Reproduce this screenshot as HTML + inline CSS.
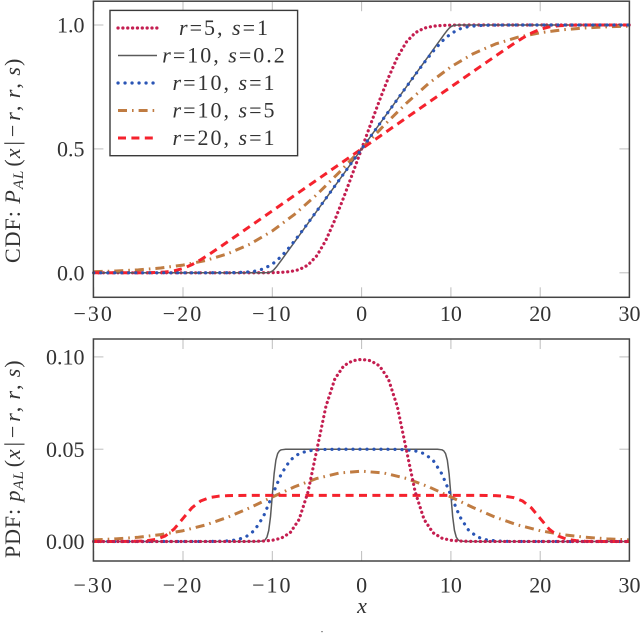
<!DOCTYPE html>
<html lang="en">
<head>
<meta charset="utf-8">
<title>CDF and PDF of the AL distribution</title>
<style>
html,body{margin:0;padding:0;background:#fff;width:640px;height:634px;overflow:hidden}
svg{display:block;font-family:"Liberation Serif",serif;fill:#333}
text{fill:#333}
.it{font-style:italic}
</style>
</head>
<body>
<svg id="chart" width="640" height="634" viewBox="0 0 640 634" xmlns="http://www.w3.org/2000/svg">
  <rect x="0" y="0" width="640" height="634" fill="#fff"></rect>
  <g id="cdf-layer"></g>
  <g id="pdf-layer"></g>
  <text transform="translate(20,263) rotate(-90)" font-size="22" letter-spacing="1">CDF: <tspan class="it">P</tspan><tspan class="it" font-size="15" dy="3">AL</tspan><tspan dy="-3" dx="3">(</tspan><tspan class="it">x</tspan><tspan dx="2">|</tspan><tspan dx="3">−</tspan><tspan class="it" dx="3">r</tspan>, <tspan class="it">r</tspan>, <tspan class="it">s</tspan>)</text>
  <text transform="translate(20,558) rotate(-90)" font-size="22" letter-spacing="0.9">PDF: <tspan class="it">p</tspan><tspan class="it" font-size="15" dy="3">AL</tspan><tspan dy="-3" dx="3">(</tspan><tspan class="it">x</tspan><tspan dx="2">|</tspan><tspan dx="3">−</tspan><tspan class="it" dx="3">r</tspan>, <tspan class="it">r</tspan>, <tspan class="it">s</tspan>)</text>
  <text class="it" x="362" y="613" font-size="22" text-anchor="middle">x</text>
  <rect x="321" y="631" width="2" height="1.2" fill="#999"></rect>
</svg>
<script>
var xTicks = [-30, -20, -10, 0, 10, 20, 30];
var cdfYTicks = [0, 0.5, 1];
var cdfYTickLabels = ['0.0', '0.5', '1.0'];
var pdfYTicks = [0, 0.05, 0.1];
var pdfYTickLabels = ['0.00', '0.05', '0.10'];
var seriesLabelsR = ['5', '10', '10', '10', '20'];
var seriesLabelsS = ['1', '0.2', '1', '5', '1'];

var xR5 = [-30,-13,-12,-11,-10,-9,-8,-7,-6,-5,-4,-3,-2,-1,0,1,2,3,4,5,6,7,8,9,10,11,12,13,30];
var cdfR5 = [0,0.00003,0.00009,0.00025,0.00067,0.00181,0.00486,0.01269,0.03133,0.06931,0.13131,0.21266,0.30477,0.40157,0.5,0.59843,0.69523,0.78734,0.86869,0.93069,0.96867,0.98731,0.99514,0.99819,0.99933,0.99975,0.99991,0.99997,1];
var pdfR5 = [0,0.00003,0.00009,0.00025,0.00067,0.0018,0.00474,0.01192,0.02689,0.05,0.0731,0.08805,0.09517,0.09795,0.09866,0.09795,0.09517,0.08805,0.0731,0.05,0.02689,0.01192,0.00474,0.0018,0.00067,0.00025,0.00009,0.00003,0];

var xR10S02Cdf = [-30,-12,-11,-10.6,-10.4,-10.2,-10,-9.8,-9.6,-9.4,-9.2,-9,-8,0,8,9,9.2,9.4,9.6,9.8,10,10.2,10.4,10.6,11,12,30];
var cdfR10S02 = [0,0,0.00007,0.00049,0.00127,0.00313,0.00693,0.01313,0.02127,0.03049,0.04018,0.05007,0.1,0.5,0.9,0.94993,0.95982,0.96951,0.97873,0.98687,0.99307,0.99687,0.99873,0.99951,0.99993,1,1];
var xR10S02Pdf = [-30,-12,-11.5,-11,-10.8,-10.6,-10.4,-10.2,-10,-9.8,-9.6,-9.4,-9.2,-9,-8.5,-8,8,8.5,9,9.2,9.4,9.6,9.8,10,10.2,10.4,10.6,10.8,11,11.5,12,30];
var pdfR10S02 = [0,0,0.00003,0.00033,0.0009,0.00237,0.00596,0.01345,0.025,0.03655,0.04404,0.04763,0.0491,0.04967,0.04997,0.05,0.05,0.04997,0.04967,0.0491,0.04763,0.04404,0.03655,0.025,0.01345,0.00596,0.00237,0.0009,0.00033,0.00003,0,0];

var xR10S1 = [-30,-17,-16,-15,-14,-13,-12,-11,-10,-9,-8,-7,-6,-5,-4,-3,-2,-1,0,1,2,3,4,5,6,7,8,9,10,11,12,13,14,15,16,17,30];
var cdfR10S1 = [0,0.00004,0.00012,0.00034,0.00091,0.00243,0.00635,0.01566,0.03466,0.06566,0.10635,0.15243,0.20091,0.25034,0.30012,0.35,0.4,0.45,0.5,0.55,0.6,0.65,0.69988,0.74966,0.79909,0.84757,0.89365,0.93434,0.96534,0.98434,0.99365,0.99757,0.99909,0.99966,0.99988,0.99996,1];
var pdfR10S1 = [0,0.00004,0.00012,0.00033,0.0009,0.00237,0.00596,0.01345,0.025,0.03655,0.04404,0.04763,0.0491,0.04967,0.04988,0.04995,0.04998,0.05,0.05,0.05,0.04998,0.04995,0.04988,0.04967,0.0491,0.04763,0.04404,0.03655,0.025,0.01345,0.00596,0.00237,0.0009,0.00033,0.00012,0.00004,0];

var xR10S5 = [-30,-27.5,-25,-22.5,-20,-17.5,-15,-12.5,-10,-7.5,-5,-2.5,0,2.5,5,7.5,10,12.5,15,17.5,20,22.5,25,27.5,30];
var cdfR10S5 = [0.00445,0.0073,0.01192,0.01935,0.03111,0.04933,0.07664,0.11576,0.16875,0.23608,0.31617,0.40563,0.5,0.59437,0.68383,0.76392,0.83125,0.88424,0.92336,0.95067,0.96889,0.98065,0.98808,0.9927,0.99555];
var pdfR10S5 = [0.00088,0.00144,0.00233,0.00372,0.00584,0.00892,0.01311,0.01833,0.0241,0.02966,0.03418,0.03709,0.03808,0.03709,0.03418,0.02966,0.0241,0.01833,0.01311,0.00892,0.00584,0.00372,0.00233,0.00144,0.00088];

var xR20 = [-30,-28,-27,-26,-25,-24,-23,-22,-21,-20,-19,-18,-17,-16,-15,-14,-12,0,12,14,15,16,17,18,19,20,21,22,23,24,25,26,27,28,30];
var cdfR20 = [0,0.00001,0.00002,0.00006,0.00017,0.00045,0.00121,0.00317,0.00783,0.01733,0.03283,0.05317,0.07621,0.10045,0.12517,0.15006,0.2,0.5,0.8,0.84994,0.87483,0.89955,0.92379,0.94683,0.96717,0.98267,0.99217,0.99683,0.99879,0.99955,0.99983,0.99994,0.99998,0.99999,1];
var pdfR20 = [0,0.00001,0.00002,0.00006,0.00017,0.00045,0.00119,0.00298,0.00672,0.0125,0.01828,0.02202,0.02381,0.02455,0.02483,0.02494,0.02499,0.025,0.02499,0.02494,0.02483,0.02455,0.02381,0.02202,0.01828,0.0125,0.00672,0.00298,0.00119,0.00045,0.00017,0.00006,0.00002,0.00001,0];

var NS = 'http://www.w3.org/2000/svg';
var styleR5 = { stroke: '#c41e50', width: 3.2, dash: '0.1 4.75', cap: 'round' };
var styleR10S02 = { stroke: '#5a5a5a', width: 1.5, dash: '', cap: 'butt' };
var styleR10S1 = { stroke: '#2a55b5', width: 3.2, dash: '0.1 6.9', cap: 'round' };
var styleR10S5 = { stroke: '#c07c42', width: 3, dash: '9 5 1.6 5', cap: 'butt' };
var styleR20 = { stroke: '#f5222d', width: 3, dash: '8 5.4', cap: 'butt' };

function make(tag, attrs, parent) {
  var n = document.createElementNS(NS, tag);
  for (var k in attrs) n.setAttribute(k, attrs[k]);
  parent.appendChild(n);
  return n;
}

function drawLine(parent, xs, ys, style, sx, sy, name) {
  var d = '';
  for (var i = 0; i < xs.length; i++) {
    d += (i ? 'L' : 'M') + sx(xs[i]).toFixed(2) + ' ' + sy(ys[i]).toFixed(2);
  }
  var p = make('path', { d: d, fill: 'none', stroke: style.stroke, 'stroke-width': style.width, 'stroke-dasharray': style.dash, 'stroke-linecap': style.cap, 'stroke-linejoin': 'round' }, parent);
  
  
  return p;
}

function drawPanel(parent, prefix, box, yVal0, yPx0, yVal1, yPx1, yTicks, yLabels, labelBaseline, series) {
  var sx = function (v) { return 361.6 + v * 8.93; };
  var sy = function (v) { return yPx0 + (v - yVal0) * (yPx1 - yPx0) / (yVal1 - yVal0); };
  xTicks.forEach(function (t) {
    var top = make('line', { x1: sx(t), x2: sx(t), y1: box.top, y2: box.top + 10, stroke: '#bdbdbd', 'stroke-width': 1 }, parent);
    
    
    var bottom = make('line', { x1: sx(t), x2: sx(t), y1: box.bottom - 10, y2: box.bottom, stroke: '#bdbdbd', 'stroke-width': 1 }, parent);
    
    
    var neg = t < 0;
    var lab = make('text', { x: sx(t), y: labelBaseline, 'font-size': 22, 'text-anchor': 'middle', 'letter-spacing': neg ? 2 : 0 }, parent);
    lab.textContent = (neg ? '−' : '') + Math.abs(t);
    
    
  });
  yTicks.forEach(function (t, i) {
    var left = make('line', { x1: box.left, x2: box.left + 10, y1: sy(t), y2: sy(t), stroke: '#bdbdbd', 'stroke-width': 1 }, parent);
    
    
    var right = make('line', { x1: box.right - 10, x2: box.right, y1: sy(t), y2: sy(t), stroke: '#bdbdbd', 'stroke-width': 1 }, parent);
    
    
    var lab = make('text', { x: 84.5, y: sy(t) + 7.6, 'font-size': 22, 'text-anchor': 'end' }, parent);
    lab.textContent = yLabels[i];
    
    
  });
  series.forEach(function (s) {
    drawLine(parent, s.x, s.y, s.style, sx, sy, prefix + '-series-' + s.id);
  });
  var frame = make('rect', { x: box.left, y: box.top, width: box.right - box.left, height: box.bottom - box.top, fill: 'none', stroke: '#444', 'stroke-width': 1.5 }, parent);
  
  
}

var cdfLayer = document.getElementById('cdf-layer');
var pdfLayer = document.getElementById('pdf-layer');

drawPanel(cdfLayer, 'cdf', { left: 93.4, right: 629.4, top: 1.2, bottom: 297.3 }, 0, 272.8, 1, 25, cdfYTicks, cdfYTickLabels, 321, [
  { id: 'r5-s1', x: xR5, y: cdfR5, style: styleR5 },
  { id: 'r10-s0-2', x: xR10S02Cdf, y: cdfR10S02, style: styleR10S02 },
  { id: 'r10-s5', x: xR10S5, y: cdfR10S5, style: styleR10S5 },
  { id: 'r20-s1', x: xR20, y: cdfR20, style: styleR20 },
  { id: 'r10-s1', x: xR10S1, y: cdfR10S1, style: styleR10S1 }
]);

drawPanel(pdfLayer, 'pdf', { left: 93.4, right: 629.4, top: 339, bottom: 561 }, 0, 541.5, 0.05, 449.2, pdfYTicks, pdfYTickLabels, 592.5, [
  { id: 'r10-s0-2', x: xR10S02Pdf, y: pdfR10S02, style: styleR10S02 },
  { id: 'r10-s1', x: xR10S1, y: pdfR10S1, style: styleR10S1 },
  { id: 'r10-s5', x: xR10S5, y: pdfR10S5, style: styleR10S5 },
  { id: 'r20-s1', x: xR20, y: pdfR20, style: styleR20 },
  { id: 'r5-s1', x: xR5, y: pdfR5, style: styleR5 }
]);

var legend = make('g', {}, cdfLayer);


var legendBox = make('rect', { x: 110, y: 10.4, width: 187.6, height: 145.3, fill: '#fff', stroke: '#3a3a3a', 'stroke-width': 1.4 }, legend);


var legendStyles = [styleR5, styleR10S02, styleR10S1, styleR10S5, styleR20];
seriesLabelsR.forEach(function (r, i) {
  var rowY = 28 + i * 27.5;
  var sample = make('line', { x1: 118, x2: 157, y1: rowY, y2: rowY, stroke: legendStyles[i].stroke, 'stroke-width': legendStyles[i].width, 'stroke-dasharray': legendStyles[i].dash, 'stroke-linecap': legendStyles[i].cap }, legend);
  
  
  var t = make('text', { x: 224.5, y: rowY + 7.2, 'font-size': 22, 'text-anchor': 'middle', 'letter-spacing': 2 }, legend);
  
  
  var a = make('tspan', { 'font-style': 'italic' }, t);
  a.textContent = 'r';
  var b = make('tspan', {}, t);
  b.textContent = '=' + r + ', ';
  var c = make('tspan', { 'font-style': 'italic' }, t);
  c.textContent = 's';
  var d = make('tspan', {}, t);
  d.textContent = '=' + seriesLabelsS[i];
});
</script>
</body>
</html>
